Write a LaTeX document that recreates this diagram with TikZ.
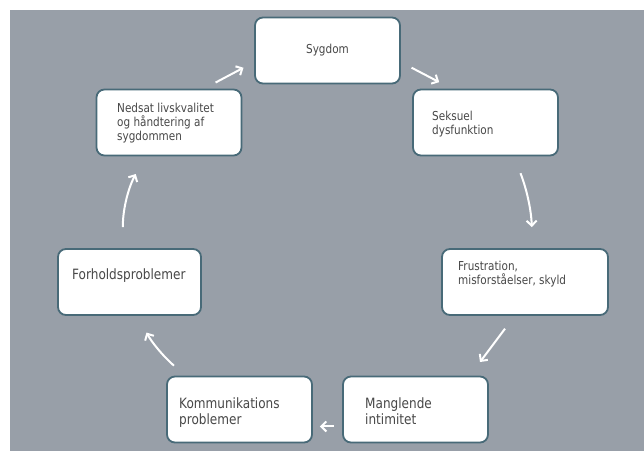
\documentclass[tikz,border=0pt]{standalone}
\usepackage{fontspec}
\setsansfont[FakeStretch=0.85]{DejaVu Sans}
\usetikzlibrary{arrows.meta}
\definecolor{bggray}{RGB}{152,159,168}
\definecolor{boxline}{RGB}{72,106,120}
\definecolor{txtgray}{RGB}{72,72,72}

\begin{document}
\begin{tikzpicture}[x=1pt,y=-1pt,>={Straight Barb[length=5pt,width=10pt]},
	box/.style={draw=boxline,line width=1.8pt,fill=white,rounded corners=8pt,
		minimum width=145pt,minimum height=66pt,inner sep=0pt},
	txt/.style={anchor=base west,inner sep=0pt,align=left,text=txtgray,
		font=\sffamily\fontsize{12.3}{14}\selectfont},
	bigtxt/.style={txt,font=\sffamily\fontsize{14.2}{16}\selectfont},
	flow/.style={->,draw=white,line width=2pt}]
\fill[white] (0,0) rectangle (644,451);
\fill[bggray] (10,10) rectangle (644,451);

\node[box] (sygdom) at (327.5,50.5) {};
\node[box] (nedsat) at (169,122.5) {};
\node[box] (seksuel) at (485.5,122.5) {};
\node[box,minimum width=166pt] (frust) at (525,282) {};
\node[box,minimum width=143pt] (forhold) at (129.5,282) {};
\node[box] (komm) at (239.5,409.5) {};
\node[box] (mangl) at (415.5,409.5) {};

% base = baseline of the last line
\node[txt,anchor=base] (sygdomtxt) at (327.5,53) {Sygdom};
\node[txt] (nedsattxt) at (117,140) {Nedsat livskvalitet\\og håndtering af\\sygdommen};
\node[txt] (seksueltxt) at (432,134) {Seksuel\\dysfunktion};
\node[txt] (frusttxt) at (458,284) {Frustration,\\misforståelser, skyld};
\node[bigtxt] (forholdtxt) at (72,279) {Forholdsproblemer};
\node[bigtxt] (kommtxt) at (179,424) {Kommunikations\\problemer};
\node[bigtxt] (mangltxt) at (365,424) {Manglende\\intimitet};

\draw[flow,shorten <=13pt,shorten >=12pt] (nedsat.44) -- (sygdom.189);
\draw[flow,shorten <=12pt,shorten >=14pt] (sygdom.-9) -- (seksuel.135);
\draw[flow,shorten <=18pt,shorten >=21pt] (seksuel.-50) to[bend left=10] (frust.78);
\draw[flow,shorten <=16pt,shorten >=17pt] (frust.-107) -- (mangl.32);
\draw[flow,shorten <=8pt,shorten >=7pt] (mangl.193) -- (komm.-13);
\draw[flow,shorten <=15pt,shorten >=19pt] (komm.148) to[bend left=10] (forhold.-77);
\draw[flow,shorten <=21pt,shorten >=20pt] (forhold.100) to[bend left=15] (nedsat.235);

\end{tikzpicture}
\end{document}
